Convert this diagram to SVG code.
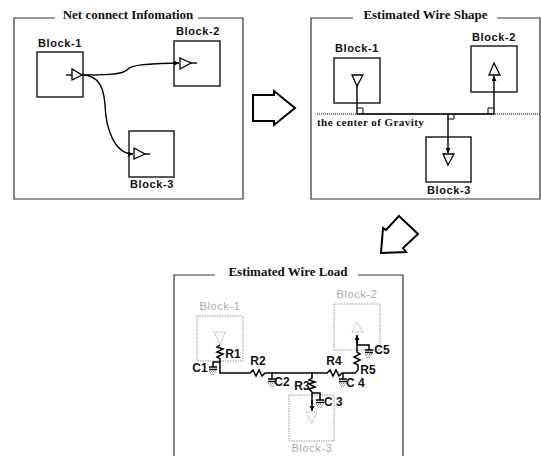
<svg xmlns="http://www.w3.org/2000/svg" width="541" height="456" viewBox="0 0 541 456">
<style>
.fr{fill:none;stroke:#333;stroke-width:1.2}
.bl{fill:#fff;stroke:#222;stroke-width:1.5}
.gb{fill:none;stroke:#999;stroke-width:1;stroke-dasharray:1.5 1}
.ln{fill:none;stroke:#000;stroke-width:1.4}
.hv{fill:none;stroke:#000;stroke-width:1.5}
.gt{fill:#fff;stroke:#aaa;stroke-width:1;stroke-dasharray:1.5 1}
.tri{fill:#fff;stroke:#000;stroke-width:1.3}
.big{fill:#fff;stroke:#000;stroke-width:2}
.t{font:bold 13px "Liberation Serif",serif;fill:#111;text-anchor:middle}
.s{font:bold 11px "Liberation Serif",serif;fill:#111;letter-spacing:.45px}
.b{font:bold 11px "Liberation Sans",sans-serif;fill:#111;text-anchor:middle;letter-spacing:.6px}
.r{font:bold 12px "Liberation Sans",sans-serif;fill:#111;text-anchor:middle}
.g{font:11px "Liberation Sans",sans-serif;fill:#aaa;text-anchor:middle;letter-spacing:.6px}
.h{fill:none;stroke:#666;stroke-width:.8;stroke-dasharray:1 1}
</style>
<defs>
<marker id="ah" markerWidth="6" markerHeight="6" refX="5" refY="2.5" orient="auto" markerUnits="userSpaceOnUse"><path d="M0 0L5 2.5L0 5Z" fill="#000"/></marker>
<g id="cap"><path class="ln" d="M-4 0H4M-4 2.5H4"/><path class="h" d="M0 2.5V4M-4 4.5H4M-3 6H3M-2 7.5H2"/></g>
</defs>
<g id="panel-net">
<path class="fr" d="M55 18H14V199H243V18H198"/>
<text class="t" x="128" y="18.500">Net connect Infomation</text>
</g>
<g id="net-block-1"><rect class="bl" x="37" y="52" width="46" height="45"/><text class="b" x="60" y="47">Block-1</text><path class="ln" d="M66 75H72"/><path class="tri" d="M72 69V80L82 75Z"/></g>
<g id="net-block-2"><rect class="bl" x="174" y="41" width="46" height="45"/><text class="b" x="198" y="35">Block-2</text><path class="ln" d="M191 63H197"/><path class="tri" d="M180 58V69L191 63Z"/></g>
<g id="net-block-3"><rect class="bl" x="129" y="131" width="45" height="46"/><text class="b" x="152" y="188">Block-3</text><path class="ln" d="M145 154H150"/><path class="tri" d="M134 148V159L145 154Z"/></g>
<g id="net-connectors">
<path class="ln" marker-end="url(#ah)" d="M82 75C100 75 122 75 127 70C131 64 150 64 179 63"/>
<path class="ln" marker-end="url(#ah)" d="M82 75C100 75 104 90 105 105C106 130 115 154 133 154"/>
</g>
<g id="arrow-right"><path class="big" d="M253 95H274V91L295 108L274 125V121H253Z"/></g>
<g id="panel-shape">
<path class="fr" d="M353 18H311V199H540V18H497"/>
<text class="t" x="425.500" y="18.500">Estimated Wire Shape</text>
<path d="M317 114H540" fill="none" stroke="#000" stroke-width="1" stroke-dasharray="1 1"/>
<text class="s" x="317" y="126">the center of Gravity</text>
</g>
<g id="shape-block-1"><rect class="bl" x="334" y="58" width="46" height="45"/><text class="b" x="357" y="52">Block-1</text><path class="tri" d="M352 75H363L357 86Z"/></g>
<g id="shape-block-2"><rect class="bl" x="471" y="46" width="46" height="46"/><text class="b" x="494" y="41">Block-2</text><path class="tri" d="M489 75H500L494 63Z"/></g>
<g id="shape-block-3"><rect class="bl" x="426" y="137" width="45" height="45"/><text class="b" x="449" y="194">Block-3</text><path class="tri" d="M443 154H454L448 165Z"/></g>
<g id="shape-connectors">
<path class="ln" d="M357 86V114H494"/>
<path class="ln" marker-end="url(#ah)" d="M494 114V76"/>
<path class="ln" marker-end="url(#ah)" d="M448 114V153"/>
<path d="M357 108H363V114M488 114V108H494M448 119H454V114" fill="none" stroke="#000" stroke-width="1"/>
</g>
<g id="arrow-down"><path class="big" d="M399 216L418 234L403 248L406 252L381 253L383 228L386 230Z"/></g>
<g id="panel-load">
<path class="fr" d="M215 275H174V456M403 456V275H358"/>
<text class="t" x="288" y="276">Estimated Wire Load</text>
</g>
<g id="load-block-1"><rect class="gb" x="197" y="316" width="46" height="45"/><text class="g" x="220" y="310">Block-1</text><path class="gt" d="M214 332H225L220 345Z"/></g>
<g id="load-block-2"><rect class="gb" x="334" y="304" width="46" height="46"/><text class="g" x="357" y="298">Block-2</text><path class="gt" d="M352 332H363L357 322Z"/></g>
<g id="load-block-3"><rect class="gb" x="289" y="395" width="45" height="46"/><text class="g" x="312" y="452">Block-3</text><path class="gt" d="M306 412H317L312 423Z"/></g>
<g id="load-connectors">
<path class="hv" d="M220 345L217 347L223 349L217 352L223 354L217 357L220 359V373H250L253 370L256 376L259 370L262 376L265 373H327L330 370L333 376L336 370L339 376L342 373H355L358 370V365L354 363L360 360L354 357L360 354L357 352V336"/>
<path class="hv" marker-end="url(#ah)" d="M357 345V335"/>
<path class="hv" d="M357 345H369V350"/>
<path class="hv" d="M312 373V378L309 380L315 382L309 384L315 387L309 389L312 392V404"/>
<path class="hv" marker-end="url(#ah)" d="M312 400V411"/>
<path class="hv" d="M312 393H320V400"/>
<path class="hv" d="M213 367V362H220"/>
<path class="ln" d="M272 373V379M343 373V379"/>
<use href="#cap" x="213" y="367"/>
<use href="#cap" x="272" y="379"/>
<use href="#cap" x="343" y="379"/>
<use href="#cap" x="320" y="400"/>
<use href="#cap" x="369" y="350"/>
</g>
<g id="load-labels">
<text class="r" x="233" y="358">R1</text>
<text class="r" x="258" y="365">R2</text>
<text class="r" x="302" y="390">R3</text>
<text class="r" x="334" y="365">R4</text>
<text class="r" x="368" y="374">R5</text>
<text class="r" x="200" y="372">C1</text>
<text class="r" x="282" y="386">C2</text>
<text class="r" x="324" y="406" style="text-anchor:start">C 3</text>
<text class="r" x="346" y="387" style="text-anchor:start">C 4</text>
<text class="r" x="382" y="354">C5</text>
</g>
</svg>
